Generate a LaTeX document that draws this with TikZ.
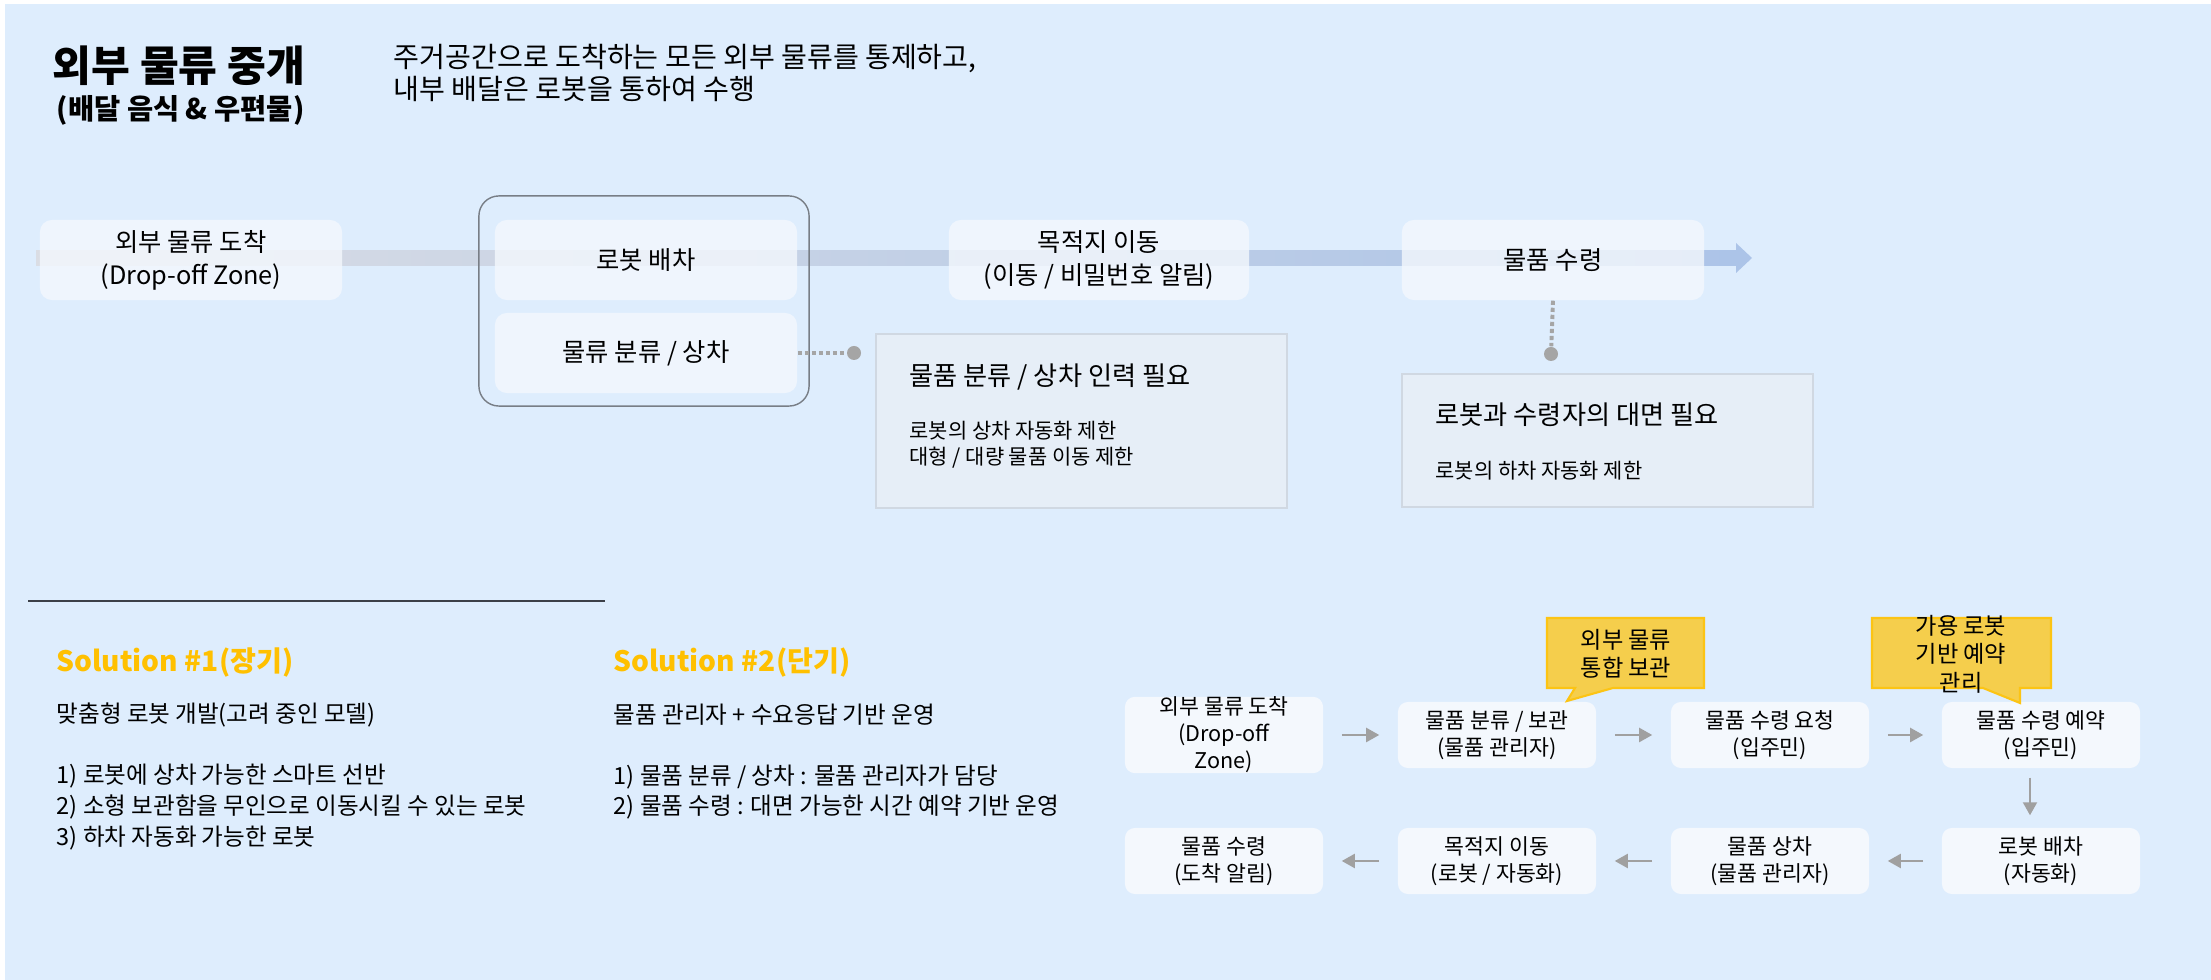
\documentclass[tikz,border=0pt]{standalone}
\usepackage{fontspec}
\setmainfont{Noto Sans CJK KR}
\usetikzlibrary{arrows.meta}

\definecolor{pagebg}{RGB}{222,237,253}
\definecolor{cardfill}{RGB}{244,248,253}
\definecolor{panelfill}{RGB}{230,238,247}
\definecolor{panelline}{RGB}{208,216,226}
\definecolor{groupline}{RGB}{120,126,134}
\definecolor{pingray}{RGB}{165,165,165}
\definecolor{bandgray}{RGB}{218,221,228}
\definecolor{bandblue}{RGB}{172,196,232}
\definecolor{solorange}{RGB}{255,192,0}
\definecolor{noteyellow}{RGB}{245,206,76}
\definecolor{noteedge}{RGB}{252,196,20}
\definecolor{arrowgray}{RGB}{160,160,160}
\definecolor{rulegray}{RGB}{60,64,72}

\tikzset{
  flowbox/.style={rounded corners=0.12cm, fill=cardfill, fill opacity=0.8, text opacity=1,
    minimum width=3.02cm, minimum height=0.8cm, align=center, inner sep=0pt,
    font=\fontsize{7.2}{9.4}\selectfont},
  stepcard/.style={rounded corners=0.1cm, fill=cardfill, minimum width=1.98cm,
    minimum height=0.66cm, align=center, inner sep=0pt, font=\fontsize{6.15}{7.7}\selectfont},
  notepanel/.style={draw=panelline, fill=panelfill, line width=0.4pt, inner sep=0pt},
  notehead/.style={anchor=west, inner sep=0pt, font=\fontsize{7.45}{8.5}\selectfont},
  notebody/.style={anchor=west, inner sep=0pt, align=left, font=\fontsize{5.95}{7.4}\selectfont},
  pindot/.style={circle, fill=pingray, minimum size=0.14cm, inner sep=0pt},
  pinline/.style={draw=pingray, line width=1.1pt, dash pattern=on 1.2pt off 0.8pt},
  steparrow/.style={draw=arrowgray, line width=0.6pt, -{Triangle[length=0.13cm,width=0.14cm]}},
  soltitle/.style={anchor=west, inner sep=0pt, text=solorange, font=\fontsize{8}{10}\selectfont\bfseries},
  soltext/.style={anchor=west, inner sep=0pt, align=left, font=\fontsize{6.7}{8.7}\selectfont},
  callout/.style={fill=noteyellow, draw=noteedge, line width=0.6pt},
  callouttext/.style={align=center, inner sep=0pt, font=\fontsize{6.6}{8.1}\selectfont}
}

\begin{document}
\begin{tikzpicture}[x=0.01cm,y=-0.01cm]
    \useasboundingbox (0,0) rectangle (2211,980);
    \fill[pagebg] (5,4) rectangle (2211,980);

    % Heading
    \node[anchor=west, inner sep=0pt, font=\fontsize{12}{14}\selectfont\bfseries] (title) at (52,66) {외부 물류 중개};
    \node[anchor=west, inner sep=0pt, font=\fontsize{8.1}{9.5}\selectfont\bfseries] (subtitle) at (56,110) {(배달 음식 \& 우편물)};
    \node[anchor=west, inner sep=0pt, align=left, font=\fontsize{8}{9.1}\selectfont] (intro) at (393,73)
        {주거공간으로 도착하는 모든 외부 물류를 통제하고,\\내부 배달은 로봇을 통하여 수행};

    % Current flow band
    \shade[left color=bandgray, right color=bandblue] (36,251) rectangle (1737,266);
    \fill[bandblue] (1736,243) -- (1752,258) -- (1736,273) -- cycle;

    % Current flow steps
    \node[draw=groupline, line width=0.4pt, rounded corners=0.2cm, minimum width=3.30cm, minimum height=2.10cm] (robotgroup) at (644,301) {};
    \node[flowbox] (arrive) at (191,260) {외부 물류 도착\\(Drop-off Zone)};
    \node[flowbox] (dispatch) at (646,260) {로봇 배차};
    \node[flowbox] (sort) at (646,353) {물류 분류 / 상차};
    \node[flowbox, minimum width=3.00cm] (move) at (1099,260) {목적지 이동\\(이동 / 비밀번호 알림)};
    \node[flowbox] (receive) at (1553,260) {물품 수령};

    % Problem notes
    \node[notepanel, minimum width=4.11cm, minimum height=1.74cm] (needpanel) at (1081.5,421) {};
    \node[notehead] (needhead) at (909,377) {물품 분류 / 상차 인력 필요};
    \node[notebody] (needbody) at (909,445) {로봇의 상차 자동화 제한\\대형 / 대량 물품 이동 제한};
    \node[notepanel, minimum width=4.11cm, minimum height=1.33cm] (facepanel) at (1607.5,440.5) {};
    \node[notehead] (facehead) at (1435,415) {로봇과 수령자의 대면 필요};
    \node[notebody] (facebody) at (1435,471) {로봇의 하차 자동화 제한};

    \node[pindot] (needdot) at (854,353) {};
    \node[pindot] (facedot) at (1551,354) {};
    \draw[pinline] (sort.east) -- (needdot);
    \draw[pinline] (receive.south) -- (facedot);

    % Divider
    \draw[rulegray, line width=0.5pt] (28,601) -- (605,601);

    % Solutions
    \node[soltitle] (sol1) at (56,663) {Solution \#1(장기)};
    \node[soltext] (sol1lead) at (56,715) {맞춤형 로봇 개발(고려 중인 모델)};
    \node[soltext] (sol1list) at (56,807) {1) 로봇에 상차 가능한 스마트 선반\\2) 소형 보관함을 무인으로 이동시킬 수 있는 로봇\\3) 하차 자동화 가능한 로봇};
    \node[soltitle] (sol2) at (613,663) {Solution \#2(단기)};
    \node[soltext] (sol2lead) at (613,715) {물품 관리자 + 수요응답 기반 운영};
    \node[soltext] (sol2list) at (613,792) {1) 물품 분류 / 상차 : 물품 관리자가 담당\\2) 물품 수령 : 대면 가능한 시간 예약 기반 운영};

    % Proposed flow
    \node[stepcard] (c1) at (1224,735) {외부 물류 도착\\(Drop-off\\Zone)};
    \node[stepcard] (c2) at (1497,735) {물품 분류 / 보관\\(물품 관리자)};
    \node[stepcard] (c3) at (1770,735) {물품 수령 요청\\(입주민)};
    \node[stepcard] (c4) at (2041,735) {물품 수령 예약\\(입주민)};
    \node[stepcard] (c5) at (2041,861) {로봇 배차\\(자동화)};
    \node[stepcard] (c6) at (1770,861) {물품 상차\\(물품 관리자)};
    \node[stepcard] (c7) at (1497,861) {목적지 이동\\(로봇 / 자동화)};
    \node[stepcard] (c8) at (1224,861) {물품 수령\\(도착 알림)};

    \draw[steparrow, shorten <=0.18cm, shorten >=0.18cm] (c1) -- (c2);
    \draw[steparrow, shorten <=0.18cm, shorten >=0.18cm] (c2) -- (c3);
    \draw[steparrow, shorten <=0.18cm, shorten >=0.18cm] (c3) -- (c4);
    \draw[steparrow, shorten <=0.09cm, shorten >=0.12cm] ([xshift=-0.11cm]c4.south) -- ([xshift=-0.11cm]c5.north);
    \draw[steparrow, shorten <=0.18cm, shorten >=0.18cm] (c5) -- (c6);
    \draw[steparrow, shorten <=0.18cm, shorten >=0.18cm] (c6) -- (c7);
    \draw[steparrow, shorten <=0.18cm, shorten >=0.18cm] (c7) -- (c8);

    % Callouts
    \draw[callout] (1547,618) -- (1704,618) -- (1704,688) -- (1613,688) -- (1567,701) -- (1575,688) -- (1547,688) -- cycle;
    \node[callouttext] (storenote) at (1626,654) {외부 물류\\통합 보관};
    \draw[callout] (1872,618) -- (2051,618) -- (2051,688) -- (2020,688) -- (2020,703) -- (1983,688) -- (1872,688) -- cycle;
    \node[callouttext] (booknote) at (1961,654) {가용 로봇\\기반 예약\\관리};
\end{tikzpicture}
\end{document}
